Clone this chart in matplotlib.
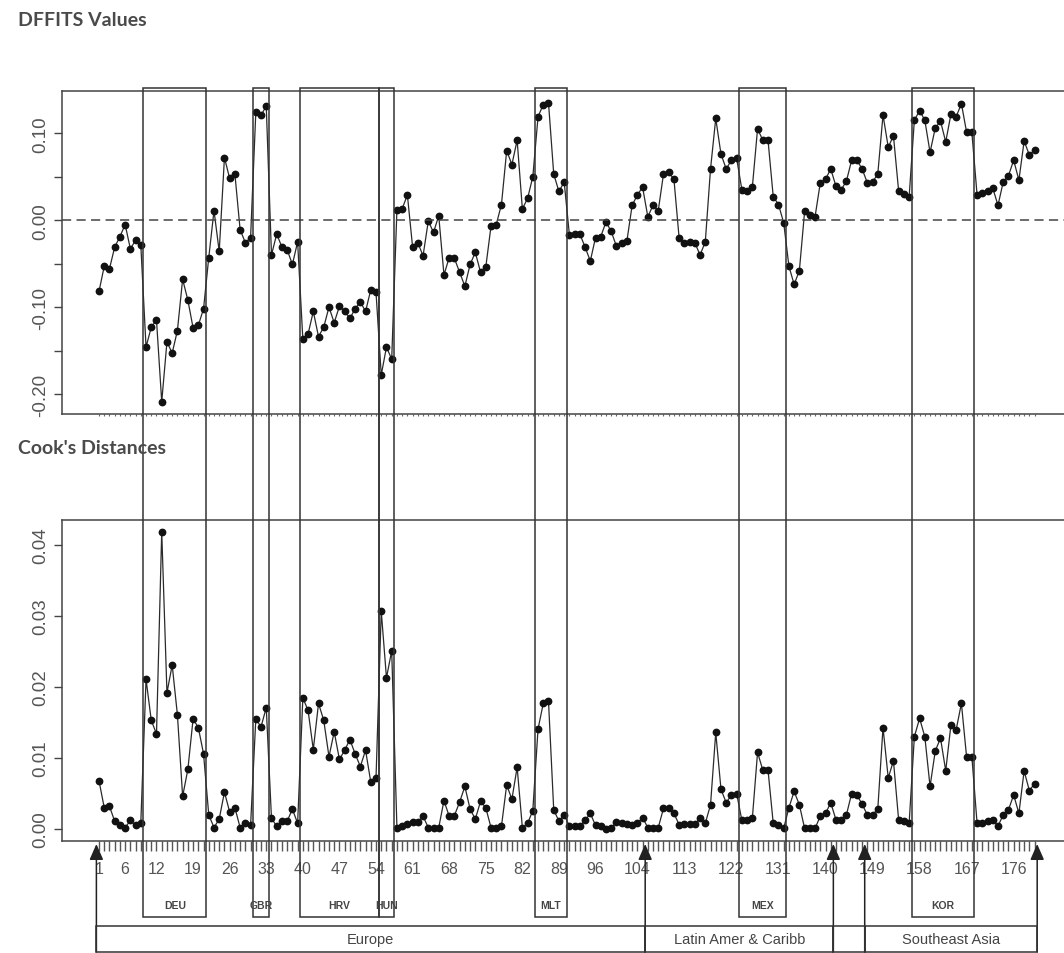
import matplotlib
matplotlib.use('Agg')
import matplotlib.pyplot as plt
import numpy as np
from matplotlib.patches import Rectangle
from matplotlib.transforms import blended_transform_factory

dffits = [
    -0.082, -0.053, -0.056, -0.031, -0.019, -0.005, -0.033, -0.023, -0.029, -0.146,
    -0.123, -0.115, -0.209, -0.140, -0.153, -0.127, -0.068, -0.092, -0.124, -0.121,
    -0.102, -0.043, 0.011, -0.036, 0.072, 0.048, 0.053, -0.011, -0.026, -0.020,
    0.124, 0.121, 0.131, -0.040, -0.016, -0.031, -0.034, -0.051, -0.025, -0.137,
    -0.131, -0.105, -0.134, -0.123, -0.100, -0.118, -0.099, -0.105, -0.113, -0.102,
    -0.094, -0.105, -0.080, -0.083, -0.178, -0.146, -0.160, 0.012, 0.013, 0.029,
    -0.031, -0.026, -0.041, -0.001, -0.014, 0.005, -0.063, -0.043, -0.044, -0.060,
    -0.076, -0.051, -0.037, -0.060, -0.054, -0.007, -0.005, 0.018, 0.080, 0.064,
    0.092, 0.013, 0.025, 0.050, 0.119, 0.133, 0.135, 0.053, 0.033, 0.044,
    -0.017, -0.016, -0.016, -0.031, -0.047, -0.020, -0.019, -0.002, -0.013, -0.030,
    -0.026, -0.024, 0.017, 0.029, 0.038, 0.004, 0.017, 0.011, 0.053, 0.055,
    0.047, -0.021, -0.026, -0.025, -0.026, -0.040, -0.025, 0.059, 0.117, 0.076,
    0.059, 0.069, 0.071, 0.035, 0.033, 0.038, 0.105, 0.092, 0.092, 0.027,
    0.018, -0.003, -0.053, -0.074, -0.058, 0.010, 0.006, 0.004, 0.043, 0.047,
    0.059, 0.039, 0.035, 0.045, 0.069, 0.069, 0.059, 0.043, 0.044, 0.053,
    0.121, 0.084, 0.097, 0.033, 0.030, 0.027, 0.115, 0.126, 0.115, 0.078,
    0.106, 0.114, 0.090, 0.122, 0.119, 0.134, 0.101, 0.101, 0.029, 0.031,
    0.033, 0.037, 0.017, 0.044, 0.051, 0.069, 0.046, 0.091, 0.075, 0.081,
]

cooks = [
    0.0068, 0.0030, 0.0032, 0.0011, 0.0006, 0.0002, 0.0012, 0.0005, 0.0009, 0.0211,
    0.0153, 0.0134, 0.0419, 0.0192, 0.0231, 0.0161, 0.0046, 0.0084, 0.0155, 0.0143,
    0.0106, 0.0020, 0.0002, 0.0014, 0.0052, 0.0024, 0.0030, 0.0002, 0.0009, 0.0005,
    0.0155, 0.0144, 0.0171, 0.0015, 0.0004, 0.0011, 0.0011, 0.0028, 0.0008, 0.0185,
    0.0167, 0.0112, 0.0177, 0.0153, 0.0102, 0.0137, 0.0098, 0.0111, 0.0126, 0.0106,
    0.0088, 0.0111, 0.0066, 0.0072, 0.0307, 0.0213, 0.0251, 0.0002, 0.0004, 0.0007,
    0.0010, 0.0010, 0.0018, 0.0002, 0.0002, 0.0002, 0.0040, 0.0018, 0.0019, 0.0038,
    0.0060, 0.0028, 0.0014, 0.0039, 0.0030, 0.0002, 0.0002, 0.0004, 0.0062, 0.0042,
    0.0087, 0.0002, 0.0008, 0.0026, 0.0141, 0.0177, 0.0180, 0.0027, 0.0011, 0.0020,
    0.0004, 0.0004, 0.0004, 0.0012, 0.0022, 0.0005, 0.0004, 0.0000, 0.0001, 0.0010,
    0.0008, 0.0007, 0.0006, 0.0008, 0.0016, 0.0002, 0.0002, 0.0002, 0.0029, 0.0030,
    0.0022, 0.0006, 0.0007, 0.0007, 0.0007, 0.0015, 0.0008, 0.0034, 0.0136, 0.0056,
    0.0037, 0.0048, 0.0050, 0.0012, 0.0012, 0.0015, 0.0108, 0.0083, 0.0083, 0.0008,
    0.0005, 0.0001, 0.0030, 0.0053, 0.0034, 0.0001, 0.0001, 0.0001, 0.0018, 0.0022,
    0.0037, 0.0013, 0.0012, 0.0020, 0.0050, 0.0048, 0.0035, 0.0020, 0.0020, 0.0028,
    0.0143, 0.0072, 0.0096, 0.0012, 0.0011, 0.0008, 0.0130, 0.0156, 0.0130, 0.0060,
    0.0110, 0.0128, 0.0082, 0.0147, 0.0140, 0.0177, 0.0101, 0.0102, 0.0008, 0.0009,
    0.0011, 0.0013, 0.0004, 0.0020, 0.0027, 0.0048, 0.0022, 0.0082, 0.0054, 0.0064,
]

tick_labels = [1, 6, 12, 19, 26, 33, 40, 47, 54, 61, 68, 75, 82, 89, 96,
               104, 113, 122, 131, 140, 149, 158, 167, 176]

countries = ['DEU', 'GBR', 'HRV', 'HUN', 'MLT', 'MEX', 'KOR']
country_first = [10, 31, 40, 55, 85, 124, 157]
country_last = [21, 33, 54, 57, 90, 132, 168]

regions = ['Europe', 'Latin Amer & Caribb', '', 'Southeast Asia']
region_first = [1, 106, 142, 148]
region_last = [105, 141, 147, 180]

plt.rcParams['font.family'] = ['Liberation Sans', 'DejaVu Sans']

W, H = 1064, 954
obs = np.arange(1, len(dffits) + 1)
dark = '#2a2a2a'
frame = '#444444'
txt = '#555555'


def fy(py):
    # pixel row -> figure fraction
    return 1 - py / H


fig = plt.figure(figsize=(W / 100, H / 100), dpi=100)
ax1 = fig.add_axes([62 / W, fy(415), 1010 / W, (415 - 92) / H])
ax2 = fig.add_axes([62 / W, fy(842), 1010 / W, (842 - 521) / H])

for ax, vals in ((ax1, dffits), (ax2, cooks)):
    ax.plot(obs, vals, color=dark, lw=0.9, marker='o', ms=4.6,
            mfc='#111111', mec='#111111')
    ax.set_xlim(-6.08, 187.16)
    for s in ax.spines.values():
        s.set_color(frame)
        s.set_linewidth(1.1)
    ax.set_xticks(obs)
    ax.tick_params(axis='y', length=6, width=1, color=frame, labelcolor=txt,
                   labelsize=13.5, labelrotation=90, pad=3)

ax1.axhline(0, color=frame, lw=1.1, ls=(0, (6, 3.5)))
ax1.set_ylim(-0.223, 0.1486)
yt1 = [-0.20, -0.15, -0.10, -0.05, 0.00, 0.05, 0.10]
ax1.set_yticks(yt1)
ax1.set_yticklabels(['-0.20', '', '-0.10', '', '0.00', '', '0.10'], va='center')
ax1.tick_params(axis='x', length=1.5, width=0.8, color='#666666', labelbottom=False)

ax2.set_ylim(-0.00169, 0.04354)
yt2 = [0.00, 0.01, 0.02, 0.03, 0.04]
ax2.set_yticks(yt2)
ax2.set_yticklabels(['%.2f' % v for v in yt2], va='center')
ax2.set_xticklabels([str(i) if i in tick_labels else '' for i in obs])
ax2.tick_params(axis='x', length=7.5, width=1, color='#555555', labelcolor=txt,
                labelsize=11.5, pad=7)

fig.text(18 / W, fy(20), 'DFFITS Values', ha='left', va='center', fontsize=14,
         fontweight='bold', color='#4a4a4a', family='Lato')
fig.text(18 / W, fy(449), "Cook's Distances", ha='left', va='center', fontsize=14,
         fontweight='bold', color='#4a4a4a', family='Lato')

trans = blended_transform_factory(ax2.transData, fig.transFigure)

# country boxes running through both panels
for name, a, b in zip(countries, country_first, country_last):
    fig.add_artist(Rectangle((a - 0.5, fy(918)), b - a + 1, (918 - 89) / H,
                             transform=trans, fill=False, ec='#333333', lw=1.1,
                             clip_on=False))
    fig.text((a + b) / 2, fy(906), name, transform=trans, ha='center', va='center',
             fontsize=7.5, fontweight='bold', color='#444444')

# region boxes and arrows
for name, a, b in zip(regions, region_first, region_last):
    fig.add_artist(Rectangle((a - 0.5, fy(953)), b - a + 1, (953 - 927) / H,
                             transform=trans, fill=False, ec='#333333', lw=1.1,
                             clip_on=False))
    fig.text((a + b) / 2, fy(940), name, transform=trans, ha='center', va='center',
             fontsize=10.5, color='#444444')

for x in [a - 0.5 for a in region_first] + [region_last[-1] + 0.5]:
    ax2.annotate('', xy=(x, fy(845)), xytext=(x, fy(953)), xycoords=trans,
                 textcoords=trans, annotation_clip=False,
                 arrowprops=dict(arrowstyle='-|>,head_length=0.8,head_width=0.35',
                                 color='#222222', lw=1.1, mutation_scale=12,
                                 shrinkA=0, shrinkB=0))

fig.savefig('out.png', dpi=100, facecolor='white')
